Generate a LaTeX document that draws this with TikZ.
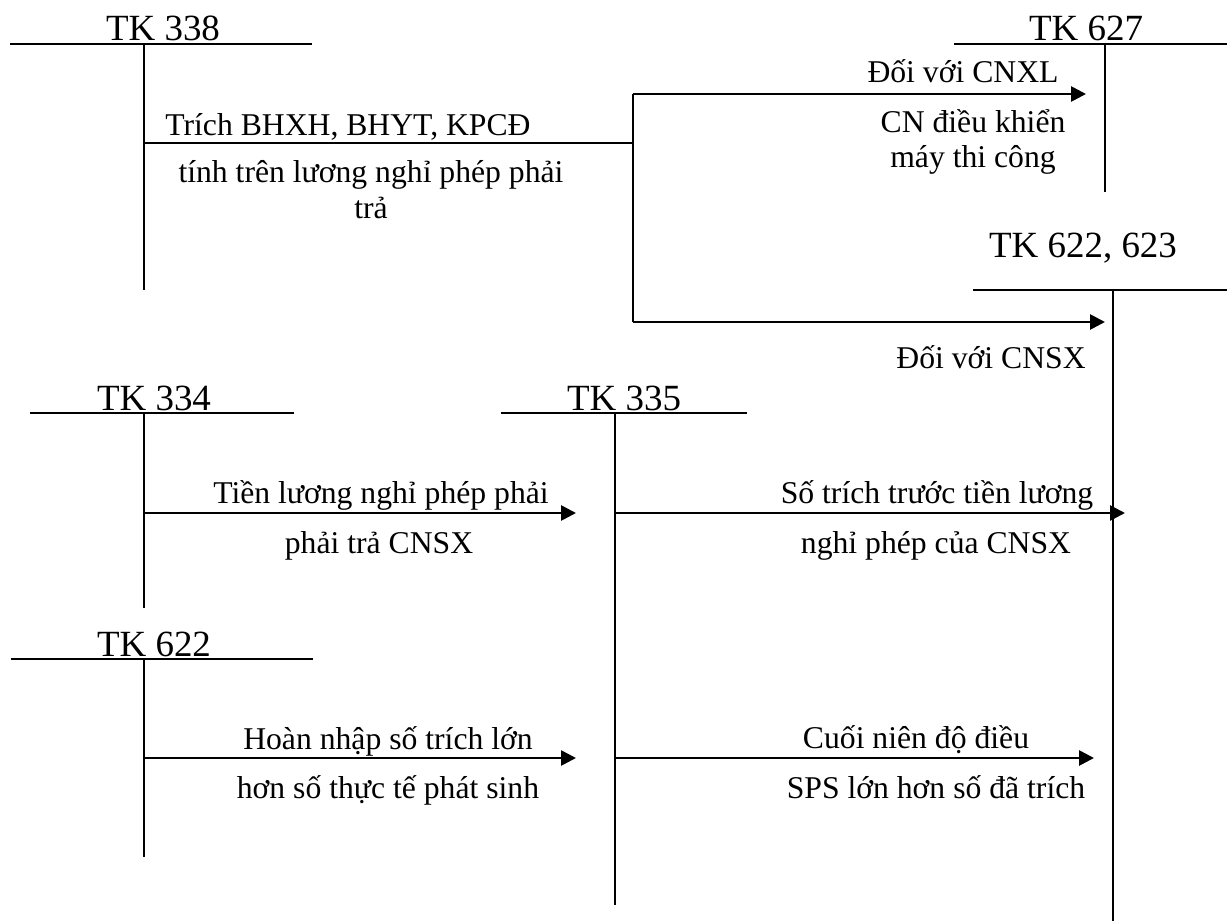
\documentclass[tikz,border=0pt]{standalone}
\usepackage{fontspec}
\setmainfont{Liberation Serif}
\usetikzlibrary{arrows.meta}
\tikzset{>={Triangle[length=5.6pt,width=5.6pt]},
  acct/.style={font=\fontsize{14}{16}\selectfont,anchor=base,inner sep=0pt},
  lab/.style={font=\fontsize{12}{14}\selectfont,anchor=base,inner sep=0pt},
  tline/.style={line width=0.7pt},
  flow/.style={->,line width=1pt},
  joint/.style={line width=1pt}}

\begin{document}
\begin{tikzpicture}[x=0.3788pt,y=-0.3788pt]
\useasboundingbox (0,0) rectangle (1227,921);
% T accounts
\node[acct] (h338) at (163,41) {TK 338};
\draw[tline] (10,44) -- (312,44) (144,44) -- (144,290);
\node[acct] (h627) at (1086,41) {TK 627};
\draw[tline] (954,44) -- (1227,44) (1105,44) -- (1105,192);
\node[acct] (h623) at (1083,258) {TK 622, 623};
\draw[tline] (973,290) -- (1227,290) (1113,290) -- (1113,921);
\node[acct] (h334) at (154,410) {TK 334};
\draw[tline] (30,413) -- (294,413) (144,413) -- (144,608);
\node[acct] (h335) at (624,410) {TK 335};
\draw[tline] (501,413) -- (747,413) (615,413) -- (615,905);
\node[acct] (h622) at (154,656) {TK 622};
\draw[tline] (11,659) -- (313,659) (144,659) -- (144,857);
% end points of the flows
\coordinate (o338) at (144,143);
\coordinate (fork) at (633,143);
\coordinate (forkT) at (633,94);
\coordinate (forkB) at (633,322);
\coordinate (i627) at (1086,94);
\coordinate (i623) at (1105,322);
\coordinate (o334) at (144,513);
\coordinate (i335a) at (576,513);
\coordinate (o335a) at (615,513);
\coordinate (i623b) at (1125,513);
\coordinate (o622) at (144,758);
\coordinate (i335b) at (576,758);
\coordinate (o335b) at (615,758);
\coordinate (i623c) at (1094,758);
% flows
\draw[joint] (o338) -- (fork) (forkT) -- (forkB);
\draw[flow] (forkT) -- (i627);
\draw[flow] (forkB) -- (i623);
\draw[flow] (o334) -- (i335a);
\draw[flow] (o335a) -- (i623b);
\draw[flow] (o622) -- (i335b);
\draw[flow] (o335b) -- (i623c);
% labels
\node[lab] (l1) at (348,135) {Trích BHXH, BHYT, KPCĐ};
\node[lab] (l2) at (371,182) {tính trên lương nghỉ phép phải};
\node[lab] (l3) at (371,218) {trả};
\node[lab] (l4) at (963,83) {Đối với CNXL};
\node[lab] (l5) at (973,133) {CN điều khiển};
\node[lab] (l6) at (973,168) {máy thi công};
\node[lab] (l7) at (991,368) {Đối với CNSX};
\node[lab] (l8) at (381,503) {Tiền lương nghỉ phép phải};
\node[lab] (l9) at (379,553) {phải trả CNSX};
\node[lab] (l10) at (937,503) {Số trích trước tiền lương};
\node[lab] (l11) at (936,553) {nghỉ phép của CNSX};
\node[lab] (l12) at (388,749) {Hoàn nhập số trích lớn};
\node[lab] (l13) at (388,798) {hơn số thực tế phát sinh};
\node[lab] (l14) at (916,748) {Cuối niên độ điều};
\node[lab] (l15) at (936,798) {SPS lớn hơn số đã trích};
\end{tikzpicture}
\end{document}
